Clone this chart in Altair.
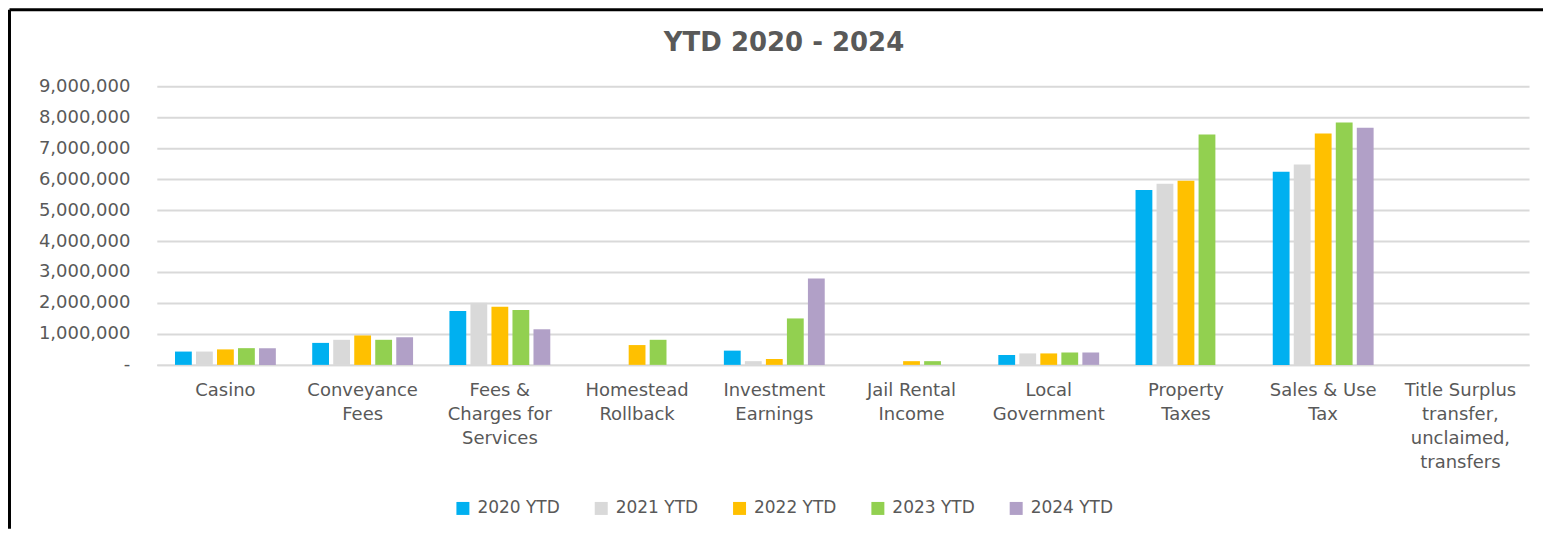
import altair as alt
import pandas as pd

categories = [
    "Casino", "Conveyance|Fees", "Fees &|Charges for|Services", "Homestead|Rollback",
    "Investment|Earnings", "Jail Rental|Income", "Local|Government", "Property|Taxes",
    "Sales & Use|Tax", "Title Surplus|transfer,|unclaimed,|transfers",
]
series_names = ["2020 YTD", "2021 YTD", "2022 YTD", "2023 YTD", "2024 YTD"]
ytd_2020 = [430000, 710000, 1740000, None, 460000, None, 320000, 5650000, 6240000, None]
ytd_2021 = [430000, 810000, 2010000, None, 120000, None, 370000, 5850000, 6470000, None]
ytd_2022 = [500000, 950000, 1880000, 640000, 190000, 120000, 370000, 5950000, 7470000, None]
ytd_2023 = [540000, 810000, 1770000, 810000, 1500000, 120000, 400000, 7440000, 7830000, None]
ytd_2024 = [540000, 890000, 1150000, None, 2790000, None, 400000, None, 7660000, None]
colors = ["#00B0F0", "#D9D9D9", "#FFC000", "#92D050", "#B1A0C7"]
chart_title = "YTD 2020 - 2024"

rows = []
for name, vals in zip(series_names, [ytd_2020, ytd_2021, ytd_2022, ytd_2023, ytd_2024]):
    for cat, v in zip(categories, vals):
        if v is not None:
            rows.append({"category": cat, "series": name, "value": v})
df = pd.DataFrame(rows)

FONT = "DejaVu Sans"
GREY = "#595959"

bars = alt.Chart(df).mark_bar().encode(
    x=alt.X("category:N", sort=categories,
            scale=alt.Scale(domain=categories, paddingInner=0.265, paddingOuter=0.1325),
            axis=alt.Axis(title=None, labelAngle=0, labelExpr="split(datum.label, '|')",
                          labelFont=FONT, labelFontSize=18, labelColor=GREY,
                          labelLineHeight=24, labelPadding=17, ticks=False,
                          domainColor="#D9D9D9", domainWidth=2, labelLimit=200)),
    xOffset=alt.XOffset("series:N", sort=series_names,
                        scale=alt.Scale(domain=series_names, paddingInner=0.2, paddingOuter=0)),
    y=alt.Y("value:Q", scale=alt.Scale(domain=[0, 9000000]),
            axis=alt.Axis(title=None, values=list(range(0, 9000001, 1000000)),
                          labelExpr="datum.value == 0 ? '-' : format(datum.value, ',.0f')",
                          labelFont=FONT, labelFontSize=18, labelColor=GREY,
                          labelPadding=27, ticks=False, domain=False,
                          gridColor="#D9D9D9", gridWidth=2)),
    color=alt.Color("series:N", sort=series_names,
                    scale=alt.Scale(domain=series_names, range=colors),
                    legend=alt.Legend(title=None, orient="none", legendX=298, legendY=414,
                                      direction="horizontal", padding=0,
                                      symbolType="square", symbolSize=169,
                                      labelFont=FONT, labelFontSize=17, labelColor=GREY,
                                      labelOffset=6, columnPadding=32.5,
                                      symbolStrokeWidth=0)),
)

deco_df = pd.DataFrame({"k": [0]})
top_line = alt.Chart(deco_df).mark_rule(color="black", strokeWidth=3).encode(
    x=alt.value(-147.5), x2=alt.value(1388), y=alt.value(-76.5))
left_line = alt.Chart(deco_df).mark_rule(color="black", strokeWidth=3).encode(
    x=alt.value(-147.5), y=alt.value(-76.5), y2=alt.value(443))
title_text = alt.Chart(deco_df).mark_text(
    font=FONT, fontSize=26, fontWeight="bold", color=GREY, align="center", baseline="middle"
).encode(x=alt.value(628), y=alt.value(-43), text=alt.value(chart_title))

chart = alt.layer(bars, top_line, left_line, title_text).properties(
    width=1374, height=279,
    padding=0,
).configure_view(stroke=None)

chart.save("out.html", embed_options={"renderer": "svg", "actions": False})
